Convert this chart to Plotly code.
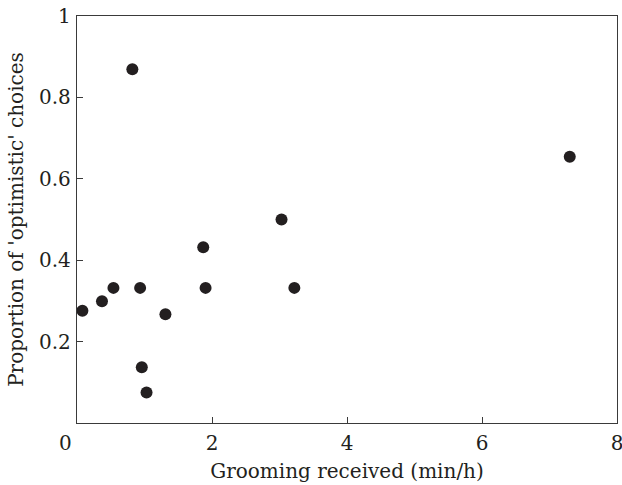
import plotly.graph_objects as go

grooming = [0.08, 0.37, 0.54, 0.935, 1.31, 0.96, 1.03, 1.87, 1.905, 0.82, 7.30, 3.03, 3.22]
optimistic = [0.276, 0.299, 0.332, 0.332, 0.267, 0.137, 0.075, 0.432, 0.332, 0.869, 0.654, 0.500, 0.332]

x_ticks = [2, 4, 6, 8]
y_ticks = [0.2, 0.4, 0.6, 0.8, 1]
y_tick_labels = ["0.2", "0.4", "0.6", "0.8", "1"]

font_family = "DejaVu Serif, serif"
ink = "#231f20"
fs = 20

fig = go.Figure()
fig.add_trace(go.Scatter(
    x=grooming, y=optimistic, mode="markers",
    marker=dict(size=12, color=ink, line=dict(width=0)),
    showlegend=False,
))

axis_common = dict(
    showgrid=False, zeroline=False, showline=True, mirror=True,
    linecolor="#3a3a3a", linewidth=1.3,
    ticks="inside", ticklen=6, tickwidth=1.3, tickcolor="#3a3a3a",
    tickfont=dict(family=font_family, size=fs, color=ink),
    automargin=False, ticklabeloverflow="allow",
)

fig.update_layout(
    width=622, height=485,
    margin=dict(l=77, r=5, t=16, b=62),
    paper_bgcolor="white", plot_bgcolor="white",
    font=dict(family=font_family, color=ink),
    xaxis=dict(range=[0, 8], tickvals=x_ticks, ticktext=[str(v) for v in x_ticks],
               title=dict(text="Grooming received (min/h)", font=dict(family=font_family, size=fs, color=ink), standoff=9),
               ticklabelstandoff=2,
               **axis_common),
    yaxis=dict(range=[0, 1], tickvals=y_ticks, ticktext=y_tick_labels,
               title=dict(text="Proportion of 'optimistic' choices", font=dict(family=font_family, size=fs, color=ink), standoff=10),
               ticklabelstandoff=1,
               **axis_common),
)

fig.add_annotation(
    text="0", xref="x", yref="paper", x=0, y=0, xanchor="center", yanchor="top",
    xshift=-12, yshift=-6, showarrow=False,
    font=dict(family=font_family, size=fs, color=ink),
)

fig.write_html("out.html", config={"displayModeBar": False},
               post_script="document.body.style.margin='0';")
